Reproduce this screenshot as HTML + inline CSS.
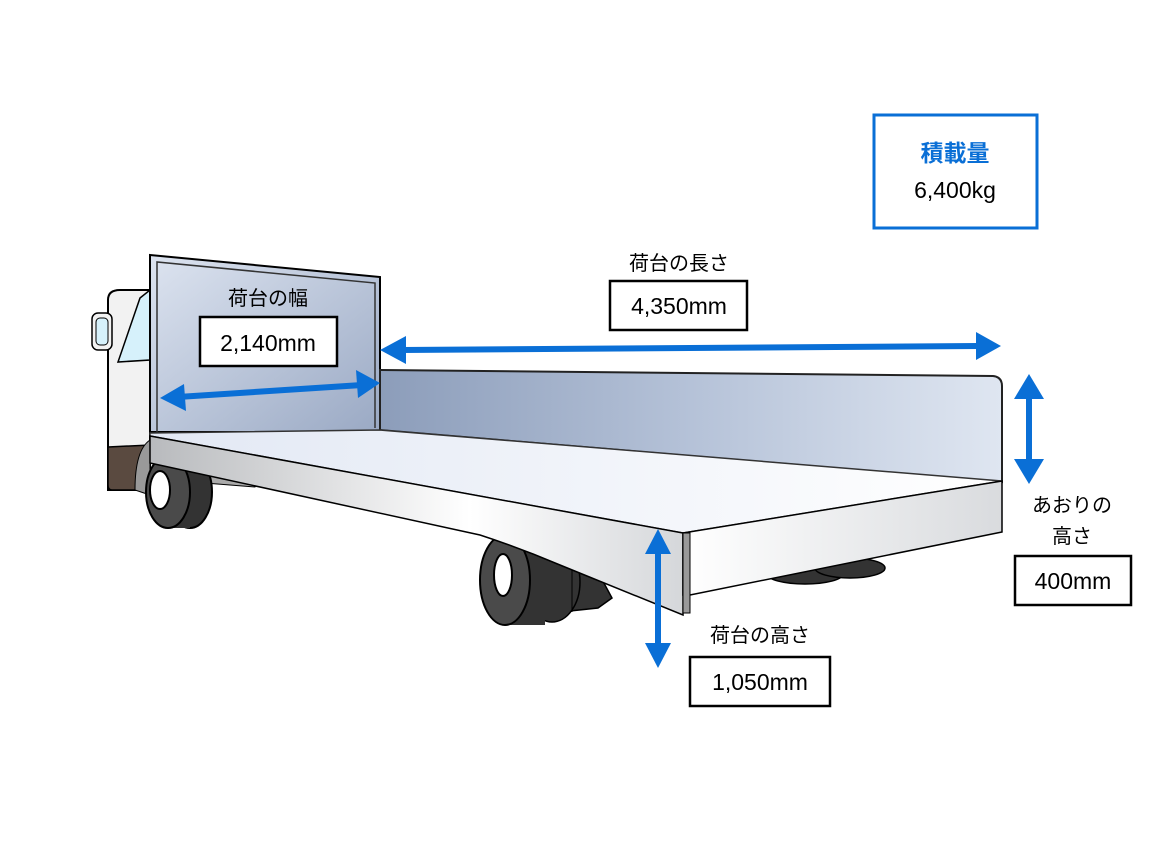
<!DOCTYPE html>
<html><head><meta charset="utf-8"><style>
html,body{margin:0;padding:0;background:#fff;}
svg{display:block;}
text{font-family:"Liberation Sans","Noto Sans CJK JP",sans-serif;}
</style></head><body>
<svg width="1160" height="860" viewBox="0 0 1160 860" xmlns="http://www.w3.org/2000/svg">
<defs>
<linearGradient id="hb" x1="0" y1="0" x2="1" y2="1"><stop offset="0" stop-color="#dde4f0"/><stop offset="1" stop-color="#9aa9c4"/></linearGradient>
<linearGradient id="sg" x1="0" y1="0" x2="1" y2="0"><stop offset="0" stop-color="#8c9dba"/><stop offset="0.5" stop-color="#b5c2d8"/><stop offset="1" stop-color="#dfe6f1"/></linearGradient>
<linearGradient id="dk" x1="0" y1="0" x2="1" y2="0"><stop offset="0" stop-color="#e2e8f4"/><stop offset="1" stop-color="#ffffff"/></linearGradient>
<linearGradient id="rl" x1="0" y1="0" x2="1" y2="0"><stop offset="0" stop-color="#b8babd"/><stop offset="0.6" stop-color="#ffffff"/><stop offset="1" stop-color="#d5d7da"/></linearGradient>
<linearGradient id="rg" x1="0" y1="0" x2="1" y2="0"><stop offset="0" stop-color="#ffffff"/><stop offset="1" stop-color="#d9dbde"/></linearGradient>
</defs>
<!-- rear tires under gate -->
<ellipse cx="805" cy="574" rx="38" ry="10" fill="#333" stroke="#000" stroke-width="1.5"/>
<ellipse cx="850" cy="568" rx="35" ry="10" fill="#333" stroke="#000" stroke-width="1.5"/>
<!-- cab -->
<path d="M108,300 Q108,290 120,290 L150,290 L150,490 L108,490 Z" fill="#f2f2f2" stroke="#000" stroke-width="2"/>
<path d="M140,298 L150,290 L150,360 L118,362 Z" fill="#d6f1fb" stroke="#000" stroke-width="1.5"/>
<rect x="92" y="313" width="20" height="37" rx="6" fill="#f2f2f2" stroke="#000" stroke-width="1.5"/>
<rect x="96" y="318" width="12" height="27" rx="4" fill="#d6f1fb" stroke="#000" stroke-width="1"/>
<path d="M108,447 L150,445 L150,490 L112,490 Q108,490 108,485 Z" fill="#5a4a40" stroke="#000" stroke-width="1.5"/>
<path d="M150,440 Q135,450 135,490 L150,495 Z" fill="#999" stroke="#000" stroke-width="1"/>
<!-- chassis strip -->
<polygon points="200,470 260,480 255,487 205,483" fill="#aaa" stroke="#000" stroke-width="1"/>
<!-- front wheel -->
<ellipse cx="190" cy="492" rx="22" ry="36" fill="#333" stroke="#000" stroke-width="2"/>
<path d="M168,456 L190,456 L190,528 L168,528 Z" fill="#333"/>
<ellipse cx="168" cy="492" rx="22" ry="36" fill="#4a4a4a" stroke="#000" stroke-width="2"/>
<ellipse cx="160" cy="490" rx="10" ry="19" fill="#fff" stroke="#000" stroke-width="2"/>
<!-- headboard -->
<polygon points="150,255 380,277 380,432 150,432" fill="url(#hb)" stroke="#000" stroke-width="2"/>
<polyline points="157,432 157,262 375,283 375,428" fill="none" stroke="#333" stroke-width="1.5"/>
<!-- side gate far -->
<path d="M380,370 L993,376 Q1002,377 1002,386 L1002,482 L380,430 Z" fill="url(#sg)" stroke="#222" stroke-width="2"/>
<!-- deck -->
<polygon points="150,433 380,430 1002,481 683,533 150,436" fill="url(#dk)" stroke="#333" stroke-width="1.5"/>
<!-- rear wheel -->
<path d="M585,548 L612,598 L598,608 L560,612 L555,548 Z" fill="#333" stroke="#000" stroke-width="1.5"/>
<ellipse cx="552" cy="582" rx="28" ry="40" fill="#333" stroke="#000" stroke-width="1.5"/>
<line x1="572" y1="550" x2="572" y2="612" stroke="#000" stroke-width="1"/>
<path d="M503,535 L545,540 L545,625 L503,625 Z" fill="#333"/>
<ellipse cx="505" cy="580" rx="25" ry="45" fill="#4a4a4a" stroke="#000" stroke-width="2"/>
<ellipse cx="503" cy="575" rx="9" ry="21" fill="#fff" stroke="#000" stroke-width="2"/>
<!-- near side rail -->
<path d="M150,436 L683,533 L683,615 L560,565 Q520,548 480,535 L150,463 Z" fill="url(#rl)" stroke="#000" stroke-width="1.5"/>
<!-- rear gate -->
<polygon points="683,533 1002,481 1002,532 690,595 683,595" fill="url(#rg)" stroke="#000" stroke-width="1.5"/>
<rect x="683" y="533" width="7" height="80" fill="#999" stroke="#000" stroke-width="1"/>
<!-- arrows -->
<g fill="#0a6fd6" stroke="#0a6fd6">
<line x1="178" y1="397" x2="362" y2="385" stroke-width="6"/>
<polygon points="160,398 184,384 186,411" stroke="none"/>
<polygon points="380,383 356,370 358,398" stroke="none"/>
<line x1="402" y1="350" x2="978" y2="346" stroke-width="6"/>
<polygon points="380,350 406,336 406,364" stroke="none"/>
<polygon points="1001,346 976,332 976,360" stroke="none"/>
<line x1="1029" y1="395" x2="1029" y2="466" stroke-width="6"/>
<polygon points="1029,374 1014,399 1044,399" stroke="none"/>
<polygon points="1029,484 1014,459 1044,459" stroke="none"/>
<line x1="658" y1="550" x2="658" y2="648" stroke-width="6"/>
<polygon points="658,529 645,554 671,554" stroke="none"/>
<polygon points="658,668 645,643 671,643" stroke="none"/>
</g>
<!-- labels -->
<text x="268" y="305" font-size="20" text-anchor="middle" fill="#000">荷台の幅</text>
<rect x="200" y="317" width="137" height="49" fill="#fff" stroke="#000" stroke-width="2.5"/>
<text x="268" y="351" font-size="23" text-anchor="middle">2,140mm</text>
<text x="679" y="270" font-size="20" text-anchor="middle">荷台の長さ</text>
<rect x="610" y="281" width="137" height="49" fill="#fff" stroke="#000" stroke-width="2.5"/>
<text x="679" y="314" font-size="23" text-anchor="middle">4,350mm</text>
<text x="1072" y="512" font-size="20" text-anchor="middle">あおりの</text>
<text x="1072" y="543" font-size="20" text-anchor="middle">高さ</text>
<rect x="1015" y="556" width="116" height="49" fill="#fff" stroke="#000" stroke-width="2.5"/>
<text x="1073" y="589" font-size="23" text-anchor="middle">400mm</text>
<text x="760" y="642" font-size="20" text-anchor="middle">荷台の高さ</text>
<rect x="690" y="657" width="140" height="49" fill="#fff" stroke="#000" stroke-width="2.5"/>
<text x="760" y="690" font-size="23" text-anchor="middle">1,050mm</text>
<rect x="874" y="115" width="163" height="113" fill="#fff" stroke="#0a6fd6" stroke-width="3"/>
<text x="955" y="161" font-size="23" text-anchor="middle" fill="#0a6fd6" font-weight="bold">積載量</text>
<text x="955" y="198" font-size="23" text-anchor="middle">6,400kg</text>
</svg>
</body></html>
